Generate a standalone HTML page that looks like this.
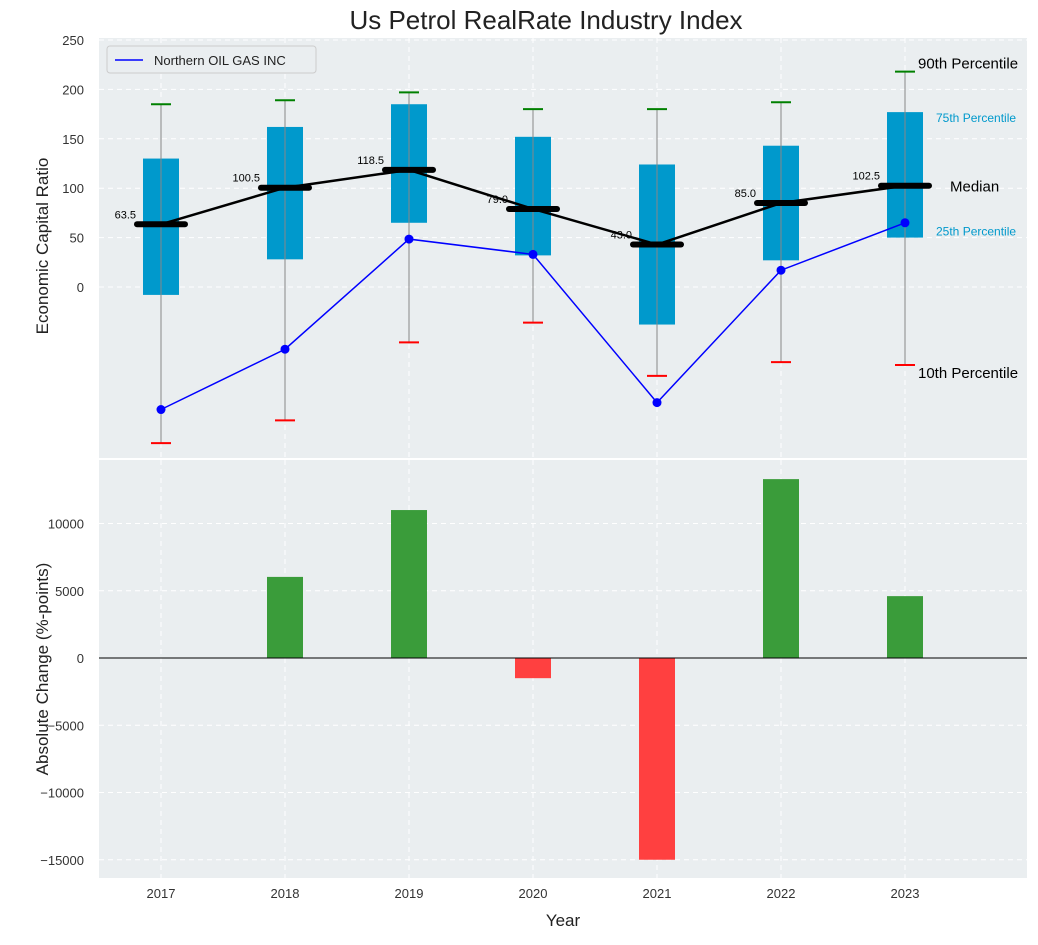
<!DOCTYPE html>
<html><head><meta charset="utf-8"><style>
body{margin:0;background:#fff;}
svg{font-family:"Liberation Sans","DejaVu Sans",sans-serif;}
</style></head><body>
<svg id="c" width="1038" height="940"></svg>
<script>
const years=[2017,2018,2019,2020,2021,2022,2023];
const p10=[-158,-135,-56,-36,-90,-76,-79];
const p25=[-8,28,65,32,-38,27,50];
const med=[63.5,100.5,118.5,79.0,43.0,85.0,102.5];
const p75=[130,162,185,152,124,143,177];
const p90=[185,189,197,180,180,187,218];
const company=[-124,-63,48.5,33,-117,17,65];
const change=[0,6030,11000,-1500,-15000,13300,4600];
const yTicksTop=[0,50,100,150,200,250];
const yTicksBot=[-15000,-10000,-5000,0,5000,10000];

const NS="http://www.w3.org/2000/svg";
const svg=document.getElementById('c');
function el(t,a,txt){const e=document.createElementNS(NS,t);for(const k in a)e.setAttribute(k,a[k]);if(txt!==undefined)e.textContent=txt;svg.appendChild(e);return e;}
const L=99,R=1027;
const x=v=>161+(v-2017)*124;
const T0=38,T1=458,yT=v=>287-v*0.988;
const B0=460,B1=878,yB=v=>658-v*0.01345;

let e;
e=el('text',{x:546,y:29,'text-anchor':'middle','font-size':26,fill:'#222'},'Us Petrol RealRate Industry Index');

e=el('rect',{x:L,y:T0,width:R-L,height:T1-T0,fill:'#eaeef0'});

e=el('rect',{x:L,y:B0,width:R-L,height:B1-B0,fill:'#eaeef0'});

years.forEach(v=>{
 el('line',{x1:x(v),x2:x(v),y1:T0,y2:T1,stroke:'#fff','stroke-dasharray':'5,4','stroke-width':1});
 el('line',{x1:x(v),x2:x(v),y1:B0,y2:B1,stroke:'#fff','stroke-dasharray':'5,4','stroke-width':1});
 e=el('text',{x:x(v),y:898,'text-anchor':'middle','font-size':13,fill:'#333'},v);
 
});
yTicksTop.forEach(v=>{
 el('line',{x1:L,x2:R,y1:yT(v),y2:yT(v),stroke:'#fff','stroke-dasharray':'5,4'});
 e=el('text',{x:84,y:yT(v)+5,'text-anchor':'end','font-size':13,fill:'#333'},v);
 
});
yTicksBot.forEach(v=>{
 el('line',{x1:L,x2:R,y1:yB(v),y2:yB(v),stroke:'#fff','stroke-dasharray':'5,4'});
 e=el('text',{x:84,y:yB(v)+5,'text-anchor':'end','font-size':13,fill:'#333'},v<0?'\u2212'+(-v):v);
 
});
years.forEach((v,i)=>{
 const cx=x(v);
 e=el('rect',{x:cx-18,y:yT(p75[i]),width:36,height:yT(p25[i])-yT(p75[i]),fill:'#0099cc'});
 
 e=el('line',{x1:cx,x2:cx,y1:yT(p90[i]),y2:yT(p10[i]),stroke:'#888','stroke-width':1});
 
 e=el('line',{x1:cx-10,x2:cx+10,y1:yT(p90[i]),y2:yT(p90[i]),stroke:'green','stroke-width':2});
 
 e=el('line',{x1:cx-10,x2:cx+10,y1:yT(p10[i]),y2:yT(p10[i]),stroke:'red','stroke-width':2});
 
});
e=el('polyline',{points:years.map((v,i)=>x(v)+','+yT(med[i])).join(' '),fill:'none',stroke:'#000','stroke-width':2.5});

years.forEach((v,i)=>{
 e=el('line',{x1:x(v)-24,x2:x(v)+24,y1:yT(med[i]),y2:yT(med[i]),stroke:'#000','stroke-width':6,'stroke-linecap':'round'});
 
 e=el('text',{x:x(v)-25,y:yT(med[i])-6,'text-anchor':'end','font-size':11,fill:'#000'},med[i].toFixed(1));
 
});
e=el('polyline',{points:years.map((v,i)=>x(v)+','+yT(company[i])).join(' '),fill:'none',stroke:'blue','stroke-width':1.5});

years.forEach((v,i)=>{
 e=el('circle',{cx:x(v),cy:yT(company[i]),r:4.5,fill:'blue'});
 
});
const li=6,lx=x(2023);
e=el('text',{x:lx+13,y:yT(p90[li])-3,'font-size':15,fill:'#000'},'90th Percentile');
e=el('text',{x:lx+31,y:yT(p75[li])+10,'font-size':12,fill:'#0099cc'},'75th Percentile');
e=el('text',{x:lx+45,y:yT(med[li])+6,'font-size':15,fill:'#000'},'Median');
e=el('text',{x:lx+31,y:yT(p25[li])-2,'font-size':12,fill:'#0099cc'},'25th Percentile');
e=el('text',{x:lx+13,y:yT(p10[li])+13,'font-size':15,fill:'#000'},'10th Percentile');
e=el('rect',{x:107,y:46,width:209,height:27,fill:'#eaeef0',stroke:'#ccc',rx:3});

el('line',{x1:115,x2:143,y1:60,y2:60,stroke:'blue','stroke-width':1.5});
e=el('text',{x:154,y:65,'font-size':13,fill:'#222'},'Northern OIL GAS INC');

years.forEach((v,i)=>{
 const c=change[i];
 e=el('rect',{x:x(v)-18,y:Math.min(yB(c),yB(0)),width:36,height:Math.abs(yB(c)-yB(0)),fill:c>=0?'#3a9c3a':'#ff4040'});
 
});
e=el('line',{x1:L,x2:R,y1:yB(0),y2:yB(0),stroke:'#000','stroke-width':1});

e=el('text',{x:48,y:(T0+T1)/2-2,'text-anchor':'middle','font-size':17,fill:'#222',transform:'rotate(-90 48 '+((T0+T1)/2-2)+')'},'Economic Capital Ratio');

e=el('text',{x:48,y:(B0+B1)/2,'text-anchor':'middle','font-size':17,fill:'#222',transform:'rotate(-90 48 '+((B0+B1)/2)+')'},'Absolute Change (%-points)');

e=el('text',{x:563,y:926,'text-anchor':'middle','font-size':17,fill:'#222'},'Year');

</script>
</body></html>
